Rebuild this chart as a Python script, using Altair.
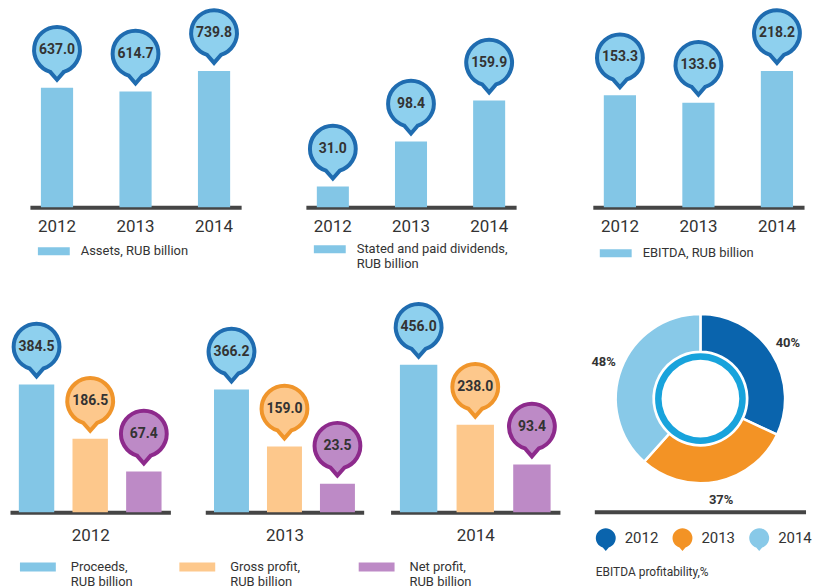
import altair as alt
import pandas as pd

# ---------------- data ----------------
years = ["2012", "2013", "2014"]
assets = [637.0, 614.7, 739.8]
dividends = [31.0, 98.4, 159.9]
ebitda = [153.3, 133.6, 218.2]

group_series = ["Proceeds,|RUB billion", "Gross profit,|RUB billion", "Net profit,|RUB billion"]
proceeds = [384.5, 366.2, 456.0]
gross_profit = [186.5, 159.0, 238.0]
net_profit = [67.4, 23.5, 93.4]

ebitda_margin = [40, 37, 48]

# ---------------- styles ----------------
FONT = "Roboto"
TEXT = "#333333"
DOMAIN = "#454545"
BLUE_BAR = "#83c6e6"
BLUE_FILL = "#8ed0ee"
BLUE_STROKE = "#1f6cb0"
ORANGE_BAR = "#fdc88c"
ORANGE_STROKE = "#f0952b"
PURPLE_BAR = "#bd8ac6"
PURPLE_STROKE = "#8d2a8c"
DONUT_COLORS = ["#0a64ad", "#f39325", "#88c9e8"]
RING = "#18a3dc"

PIN = "M0,1.3L-0.3,0.954A1,1 0 1,1 0.3,0.954Z"
SWATCH = "M-1,-0.25H1V0.25H-1Z"

TH = 200
BH = 200
BUBBLE_SIZE = 2116
BUBBLE_OFF = -38


def spacer(w, h=10):
    return alt.Chart(pd.DataFrame({"s": [0]})).mark_point(opacity=0, size=1).encode(
        x=alt.value(1), y=alt.value(5)
    ).properties(width=w, height=h)


def top_panel(values, label, domain, width, lx, ly):
    df = pd.DataFrame({"year": years, "value": values, "series": label})
    x = alt.X(
        "year:N",
        scale=alt.Scale(paddingInner=0.59, paddingOuter=0.14),
        axis=alt.Axis(
            title=None, labelAngle=0, ticks=False, tickSize=0,
            domainColor=DOMAIN, domainWidth=4, labelFont=FONT,
            labelFontSize=17, labelColor=TEXT, labelPadding=11, grid=False,
        ),
    )
    y = alt.Y("value:Q", scale=alt.Scale(domain=domain, zero=False, nice=False), axis=None)
    base = alt.Chart(df).encode(x=x)
    bars = base.mark_bar().encode(
        y=y, y2=alt.datum(domain[0]),
        color=alt.Color(
            "series:N", scale=alt.Scale(range=[BLUE_BAR]),
            legend=alt.Legend(
                title=None, orient="none", legendX=lx, legendY=ly,
                symbolType=SWATCH, symbolSize=1024, symbolStrokeWidth=0,
                labelFont=FONT, labelFontSize=13, labelColor=TEXT,
                labelOffset=11, labelLimit=400, padding=0,
                labelExpr="split(datum.label, '|')",
            ),
        ),
    )
    bubbles = base.mark_point(
        shape=PIN, size=BUBBLE_SIZE, filled=True, strokeWidth=4, opacity=1,
        yOffset=BUBBLE_OFF,
    ).encode(y=y, fill=alt.value(BLUE_FILL), stroke=alt.value(BLUE_STROKE))
    labels = base.mark_text(
        yOffset=BUBBLE_OFF, font=FONT, fontSize=14, fontWeight="bold",
        color=TEXT, baseline="middle",
    ).encode(y=y, text=alt.Text("value:Q", format=".1f"))
    return alt.layer(bars, bubbles, labels).properties(width=width, height=TH)


GROUP_DOMAIN = [-80.5, 645]


def group_panel(i, width, legend_value, lx, ly):
    df = pd.DataFrame({
        "series": group_series,
        "value": [proceeds[i], gross_profit[i], net_profit[i]],
    })
    x = alt.X(
        "series:N", sort=group_series,
        scale=alt.Scale(paddingInner=0.34, paddingOuter=0.165),
        axis=alt.Axis(
            labels=False, ticks=False, tickSize=0, domainColor=DOMAIN,
            domainWidth=4, title=years[i], titleFont=FONT, titleFontSize=17,
            titleFontWeight="normal", titleColor=TEXT, titlePadding=15, grid=False,
        ),
    )
    y = alt.Y("value:Q", scale=alt.Scale(domain=GROUP_DOMAIN, zero=False, nice=False), axis=None)
    base = alt.Chart(df).encode(x=x)
    bars = base.mark_bar().encode(
        y=y, y2=alt.datum(GROUP_DOMAIN[0]),
        color=alt.Color(
            "series:N",
            scale=alt.Scale(domain=group_series, range=[BLUE_BAR, ORANGE_BAR, PURPLE_BAR]),
            legend=alt.Legend(
                title=None, orient="none", legendX=lx, legendY=ly,
                values=[legend_value],
                symbolType=SWATCH, symbolSize=1296, symbolStrokeWidth=0,
                labelFont=FONT, labelFontSize=13, labelColor=TEXT,
                labelOffset=15, labelLimit=400, padding=0,
                labelExpr="split(datum.label, '|')",
            ),
        ),
    )
    bubbles = base.mark_point(
        shape=PIN, size=BUBBLE_SIZE, filled=True, strokeWidth=4, opacity=1,
        yOffset=BUBBLE_OFF,
    ).encode(
        y=y,
        fill=alt.Fill("series:N", scale=alt.Scale(domain=group_series,
                      range=[BLUE_FILL, ORANGE_BAR, PURPLE_BAR]), legend=None),
        stroke=alt.Stroke("series:N", scale=alt.Scale(domain=group_series,
                          range=[BLUE_STROKE, ORANGE_STROKE, PURPLE_STROKE]), legend=None),
    )
    labels = base.mark_text(
        yOffset=BUBBLE_OFF, font=FONT, fontSize=14, fontWeight="bold",
        color=TEXT, baseline="middle",
    ).encode(y=y, text=alt.Text("value:Q", format=".1f"))
    return alt.layer(bars, bubbles, labels).properties(width=width, height=BH)


# ---------------- donut ----------------
donut_df = pd.DataFrame({"year": years, "pct": ebitda_margin})
donut_df["label"] = donut_df["pct"].astype(str) + "%"

CX, CY = 106, 86
dbase = alt.Chart(donut_df).encode(
    theta=alt.Theta("pct:Q", stack=True),
    order=alt.Order("year:N"),
    x=alt.value(CX), y=alt.value(CY),
)
arcs = dbase.mark_arc(innerRadius=47, outerRadius=85, stroke="white", strokeWidth=2.5).encode(
    color=alt.Color(
        "year:N", scale=alt.Scale(domain=years, range=DONUT_COLORS),
        legend=alt.Legend(
            title="EBITDA profitability,%", titleOrient="bottom", titleAnchor="start",
            titleFont=FONT, titleFontSize=12, titleFontWeight="normal", titleColor=TEXT,
            titlePadding=16, orient="none", legendX=1, legendY=216,
            direction="horizontal", symbolType=PIN, symbolSize=400,
            symbolStrokeWidth=0, labelFont=FONT, labelFontSize=15, labelColor=TEXT,
            labelOffset=9, columnPadding=13, padding=0,
        ),
    )
)
ring = alt.Chart(pd.DataFrame({"r": [0]})).mark_arc(
    innerRadius=39, outerRadius=45.5, theta=0, theta2=6.2832
).encode(color=alt.value(RING), x=alt.value(CX), y=alt.value(CY))
pct_text = dbase.mark_text(radius=104, font=FONT, fontSize=13, fontWeight="bold").encode(
    text="label:N", color=alt.value(TEXT)
)
donut_rule = alt.Chart(pd.DataFrame({"r": [0]})).mark_rule(
    color=DOMAIN, strokeWidth=4
).encode(x=alt.value(0), x2=alt.value(212), y=alt.value(BH))
donut = alt.layer(arcs, ring, pct_text, donut_rule).properties(width=212, height=BH)

# ---------------- layout ----------------
top_row = alt.hconcat(
    spacer(22),
    top_panel(assets, "Assets, RUB billion", [-88, 1121], 212, 8, 228),
    spacer(65),
    top_panel(dividends, "Stated and paid dividends,|RUB billion", [0, 298], 211, 8, 226),
    spacer(77),
    top_panel(ebitda, "EBITDA, RUB billion", [-144, 385], 212, 7, 230),
    spacing=0, bounds="flush",
).resolve_scale(color="independent").resolve_legend(color="independent")

bottom_row = alt.hconcat(
    spacer(2),
    group_panel(0, 161, group_series[0], 10, 237),
    spacer(35),
    group_panel(1, 159, group_series[1], -26, 237),
    spacer(27),
    group_panel(2, 170, group_series[2], -32, 237),
    spacer(35),
    donut,
    spacing=0, bounds="flush",
).resolve_scale(color="independent", fill="independent", stroke="independent",
                theta="independent").resolve_legend(color="independent")

chart = alt.vconcat(top_row, bottom_row, spacing=25).resolve_scale(
    color="independent"
).resolve_legend(color="independent").properties(
    padding={"top": -7, "left": -3, "right": 0, "bottom": 0}
).configure(
    font=FONT
).configure_view(strokeWidth=0, stroke="transparent")

chart.save("out.html", embed_options={"renderer": "svg", "actions": False})
